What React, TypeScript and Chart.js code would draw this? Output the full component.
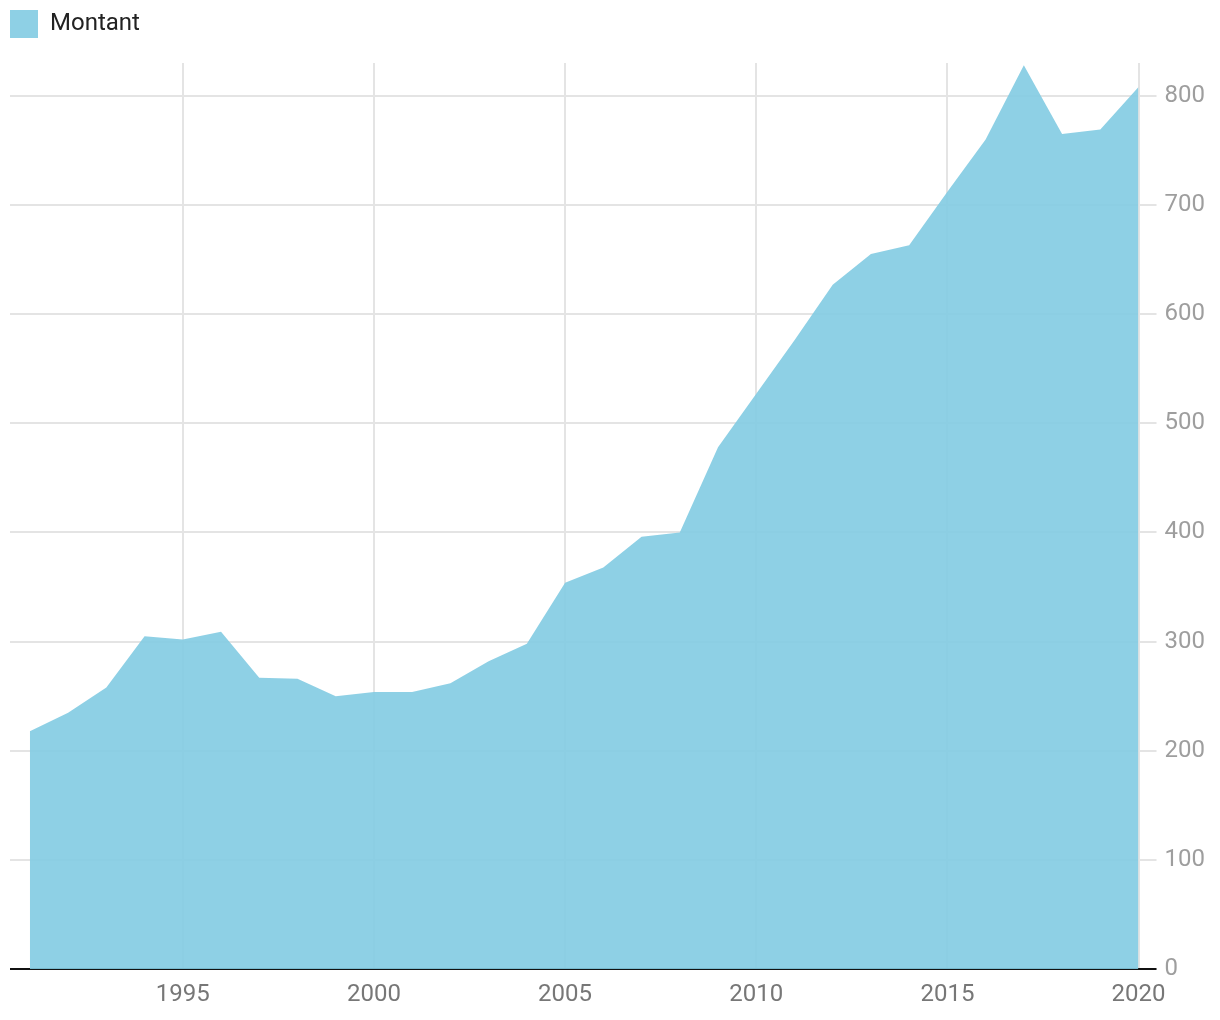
import React, { useEffect, useRef } from "react";
import { Chart, registerables } from "chart.js";

Chart.register(...registerables);

const years = [1991, 1992, 1993, 1994, 1995, 1996, 1997, 1998, 1999, 2000, 2001, 2002, 2003, 2004, 2005, 2006, 2007, 2008, 2009, 2010, 2011, 2012, 2013, 2014, 2015, 2016, 2017, 2018, 2019, 2020];
const montant = [218, 235, 258, 305, 302, 309, 267, 266, 250, 254, 254, 262, 282, 298, 354, 368, 396, 400, 478, 527, 576, 627, 655, 663, 712, 760, 828, 765, 769, 808];
const xTicks = [1995, 2000, 2005, 2010, 2015, 2020];
const yTicks = [0, 100, 200, 300, 400, 500, 600, 700, 800];
const seriesLabel = "Montant";

export default function App() {
  const ref = useRef<HTMLCanvasElement | null>(null);
  useEffect(() => {
    document.body.style.margin = "0";
    const ctx = ref.current!.getContext("2d")!;
    const legendTweak = {
      id: "legendTweak",
      beforeInit(chart: any) {
        const lg = chart.legend;
        if (!lg) return;
        const orig = lg.fit;
        lg.fit = function () {
          orig.call(this);
          this.height += 15;
        };
      },
      afterLayout(chart: any) {
        if (chart.legend) {
          chart.legend.left = 0;
        }
      },
    };
    const chart = new Chart(ctx, {
      type: "line",
      data: {
        datasets: [
          {
            label: seriesLabel,
            data: years.map((y, i) => ({ x: y, y: montant[i] })),
            fill: "origin",
            backgroundColor: "rgba(130,203,226,0.9)",
            borderColor: "rgba(130,203,226,0.9)",
            borderWidth: 0,
            pointRadius: 0,
            tension: 0,
          },
        ],
      },
      options: {
        responsive: false,
        animation: false,
        layout: { padding: { left: 10, right: 7, top: 0, bottom: 0 } },
        plugins: {
          legend: {
            display: true,
            position: "top",
            align: "start",
            labels: {
              boxWidth: 28,
              boxHeight: 28,
              padding: 10,
              color: "#222222",
              font: { family: "Roboto", size: 24 },
            },
          },
          tooltip: { enabled: false },
        },
        scales: {
          x: {
            type: "linear",
            min: 1990.48,
            max: 2020,
            afterBuildTicks: (s: any) => {
              s.ticks = xTicks.map((v) => ({ value: v }));
            },
            grid: { color: "#e4e4e4", lineWidth: 2, drawTicks: false },
            border: { display: false },
            ticks: {
              padding: 11,
              color: "#777777",
              font: { family: "Roboto", size: 24 },
              callback: (v: any) => String(v),
              maxRotation: 0,
            },
          },
          y: {
            type: "linear",
            position: "right",
            min: 0,
            max: 830,
            afterBuildTicks: (s: any) => {
              s.ticks = yTicks.map((v) => ({ value: v }));
            },
            afterFit: (s: any) => {
              s.paddingBottom = 0;
              s.paddingTop = 0;
            },
            grid: {
              color: (c: any) => (c.tick && c.tick.value === 0 ? "#111111" : "#e4e4e4"),
              lineWidth: 2,
              drawTicks: true,
              tickLength: 18,
            },
            border: { display: false },
            ticks: {
              padding: 8,
              color: "#9e9e9e",
              font: { family: "Roboto", size: 24 },
            },
          },
        },
      },
      plugins: [legendTweak],
    });
    return () => chart.destroy();
  }, []);
  return (
    <div style={{ width: 1220, height: 1020 }}>
      <canvas ref={ref} width={1220} height={1020} style={{ display: "block" }} />
    </div>
  );
}
